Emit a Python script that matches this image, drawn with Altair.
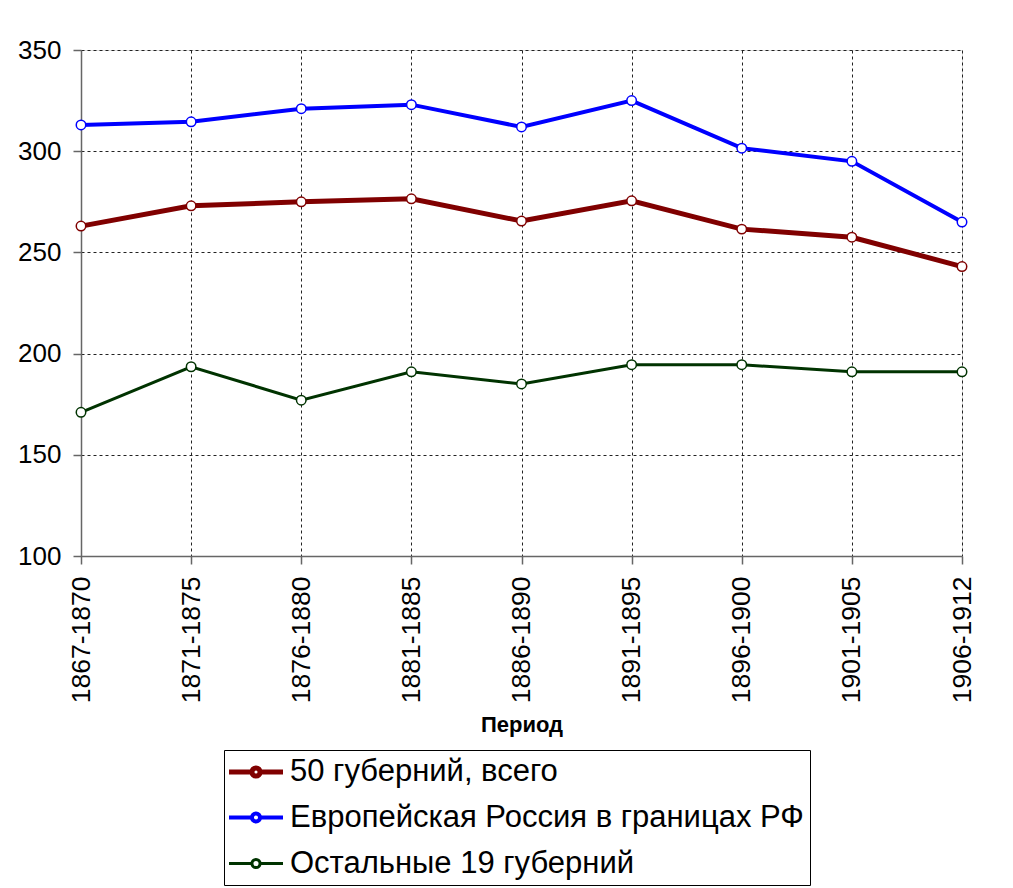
import altair as alt
import pandas as pd

periods = ["1867-1870", "1871-1875", "1876-1880", "1881-1885", "1886-1890",
           "1891-1895", "1896-1900", "1901-1905", "1906-1912"]
series_names = ["50 губерний, всего", "Европейская Россия в границах РФ", "Остальные 19 губерний"]
total_50 = [263, 273, 275, 276.5, 265.5, 275.5, 261.5, 257.5, 243]
eur_russia_rf = [313, 314.5, 321, 323, 312, 325, 301.5, 295, 265]
other_19 = [171, 193.5, 177, 191, 185, 194.5, 194.5, 191, 191]
colors = ["#800000", "#0000ff", "#003300"]
widths = [5, 3, 3]

rows = []
for name, vals in zip(series_names, [total_50, eur_russia_rf, other_19]):
    for p, v in zip(periods, vals):
        rows.append({"period": p, "series": name, "value": v})
df = pd.DataFrame(rows)

FONT = "Liberation Sans"

x_enc = alt.X("period:O", sort=periods, scale=alt.Scale(type="point", padding=0),
              axis=alt.Axis(title="Период", labelAngle=270, labelAlign="right", labelBaseline="middle",
                            labelFontSize=26.5, labelFont=FONT, labelColor="black", labelPadding=12,
                            titleFontSize=22, titleFont=FONT, titleFontWeight="bold", titleColor="black",
                            titlePadding=12,
                            grid=True, gridDash=[3, 3], gridColor="#222222", gridWidth=1,
                            domainColor="#666666", domainWidth=1.5, tickColor="#666666", tickSize=8, tickWidth=1.5))
y_enc = alt.Y("value:Q", scale=alt.Scale(domain=[100, 350], nice=False, zero=False),
              axis=alt.Axis(title=None, values=[100, 150, 200, 250, 300, 350],
                            labelFontSize=26, labelFont=FONT, labelColor="black", labelPadding=12,
                            grid=True, gridDash=[3, 3], gridColor="#222222", gridWidth=1,
                            domainColor="#666666", domainWidth=1.5, tickColor="#666666", tickSize=8, tickWidth=1.5))
color_scale = alt.Scale(domain=series_names, range=colors)

legend = alt.Legend(title=None, orient="none", legendX=143, legendY=700,
                    labelFontSize=31, labelFont=FONT, labelColor="black", labelLimit=0,
                    symbolType="M-2,0H-0.3M0.3,0H2M-0.3,0A0.3,0.3 0 1,0 0.3,0A0.3,0.3 0 1,0 -0.3,0",
                    symbolSize=729, symbolFillColor="white", symbolOffset=10,
                    strokeColor="black", padding=6, rowPadding=14, labelOffset=18,
                    fillColor="white")

lines = alt.Chart(df).mark_line().encode(
    x=x_enc, y=y_enc,
    color=alt.Color("series:N", scale=color_scale, legend=legend, sort=series_names),
    strokeWidth=alt.StrokeWidth("series:N", scale=alt.Scale(domain=series_names, range=widths),
                                legend=legend, sort=series_names),
)
points = alt.Chart(df).mark_point(filled=False, fill="white", fillOpacity=1, opacity=1,
                                  size=90, strokeWidth=1.5).encode(
    x=x_enc, y=y_enc,
    color=alt.Color("series:N", scale=color_scale, legend=None),
)

chart = alt.layer(lines, points).properties(
    width=881, height=506,
    padding={"left": 9, "top": 29, "right": 20, "bottom": 5},
).configure_view(stroke=None).configure(background="white")

chart.save("out.html", embed_options={"renderer": "svg", "actions": False})
